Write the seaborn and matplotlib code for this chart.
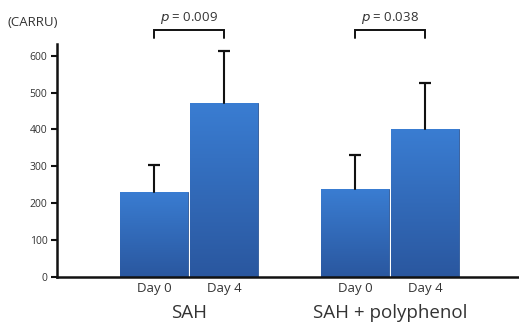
import numpy as np
import pandas as pd
import matplotlib
matplotlib.use("Agg")
import matplotlib.pyplot as plt
import seaborn as sns

# values
groups = ["SAH", "SAH + polyphenol"]
days = ["Day 0", "Day 4"]
means = [[231, 472], [238, 401]]
upper_err = [[72, 140], [93, 126]]
p_values = ["0.009", "0.038"]

rows = []
for g, m_row, e_row in zip(groups, means, upper_err):
    for d, m, e in zip(days, m_row, e_row):
        rows.append({"group": g, "day": d, "value": m, "err": e})
df = pd.DataFrame(rows)

sns.set_style("white")
plt.rcParams["font.family"] = ["Open Sans", "DejaVu Sans"]
txt = "#333333"

fig = plt.figure(figsize=(5.19, 3.22), dpi=100)
ax = fig.add_axes([57 / 519, 45.3 / 322, 462 / 519, 232.7 / 322])

sns.barplot(data=df, x="group", y="value", hue="day", order=groups, hue_order=days,
            palette=["#3170c4", "#3170c4"], width=0.70, gap=0.04,
            edgecolor="#2a5597", linewidth=0.6, legend=False, ax=ax)

# gradient fill + upward error bars, positions taken from the drawn bars
grad = np.linspace(0, 1, 256).reshape(-1, 1)
cmap = matplotlib.colors.LinearSegmentedColormap.from_list("bar", ["#2a579f", "#3a7dd2"])
bars = sorted(ax.patches, key=lambda p: p.get_x())
centers = []
for bar, (_, r) in zip(bars, df.iterrows()):
    x0, w, h = bar.get_x(), bar.get_width(), bar.get_height()
    im = ax.imshow(grad, extent=[x0, x0 + w, 0, h], origin="lower", cmap=cmap,
                   aspect="auto", zorder=bar.get_zorder(), interpolation="bicubic")
    im.set_clip_path(bar)
    cx = x0 + w / 2
    centers.append(cx)
    top = h + r["err"]
    ax.plot([cx, cx], [h, top], color="#111111", lw=1.5, zorder=3)
    ax.plot([cx], [top], marker="_", markersize=9, markeredgewidth=1.6,
            color="#111111", zorder=3)

ax.set_xlim(-0.657, 1.642)
ax.set_ylim(0, 632)
ax.set_yticks(range(0, 601, 100))
ax.tick_params(axis="y", direction="out", length=4, width=1.5, color="#111111",
               labelsize=7.5, labelcolor=txt, pad=3, left=True)
ax.set_xticks(centers)
ax.set_xticklabels(days * 2, fontsize=9.5, color=txt)
ax.tick_params(axis="x", length=0, pad=4)
ax.set_xlabel("")
ax.set_ylabel("")
for s in ["top", "right"]:
    ax.spines[s].set_visible(False)
for s in ["left", "bottom"]:
    ax.spines[s].set_linewidth(1.8)
    ax.spines[s].set_color("#111111")

# group labels under the day labels
trans = matplotlib.transforms.blended_transform_factory(ax.transData, ax.transAxes)
for i, g in enumerate(groups):
    ax.text(i, -0.155, g, transform=trans, ha="center", va="center",
            fontsize=13.5, color=txt)

# significance brackets
for i, p in enumerate(p_values):
    xa, xb = centers[2 * i], centers[2 * i + 1]
    ax.plot([xa, xa, xb, xb], [649, 670, 670, 649], color="#111111", lw=1.4,
            clip_on=False, solid_joinstyle="miter")
    ax.text((xa + xb) / 2, 703, r"$\it{p}$ = " + p, ha="center", va="center",
            fontsize=9.5, color=txt, clip_on=False)

fig.text(8 / 519, 1 - 22 / 322, "(CARRU)", ha="left", va="center", fontsize=9.5, color=txt)

fig.savefig("out.png", dpi=100)
